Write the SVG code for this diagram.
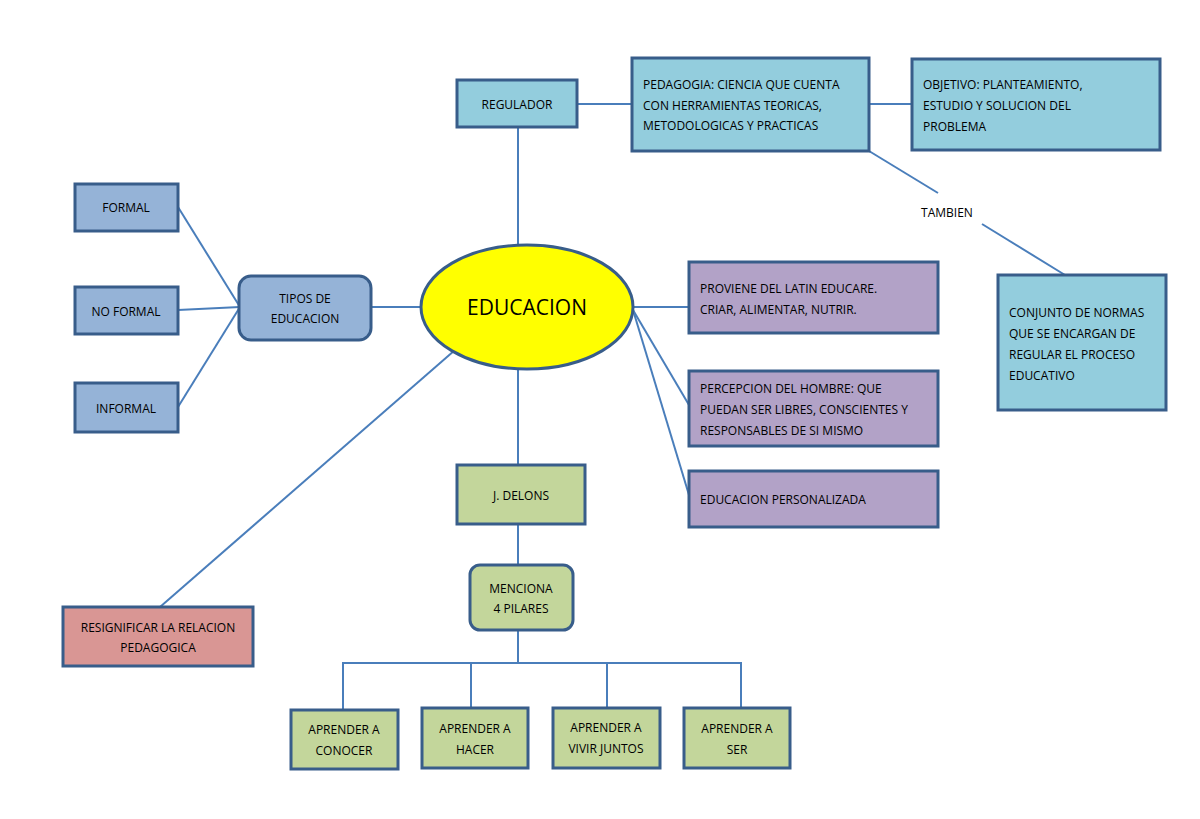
<svg xmlns="http://www.w3.org/2000/svg" width="1200" height="819" viewBox="0 0 1200 819">
<style>
.b{stroke:#385d8a;stroke-width:3}
.cy{fill:#93cddd}.bl{fill:#95b3d7}.pu{fill:#b2a2c7}.gr{fill:#c3d69b}.rd{fill:#d99694}
text{font-family:"Open Sans","Liberation Sans",sans-serif;font-size:12px;fill:#000}
.c{text-anchor:middle}
#conn line,#conn polyline{stroke:#4a7ebb;stroke-width:2;fill:none}
</style>
<rect width="1200" height="819" fill="#fff"/>
<g id="conn">
<line x1="178" y1="207" x2="240" y2="307"/>
<line x1="178" y1="310" x2="240" y2="307"/>
<line x1="178" y1="407" x2="240" y2="307"/>
<line x1="371" y1="307" x2="421" y2="307"/>
<line x1="518" y1="127" x2="518" y2="245"/>
<line x1="577" y1="104" x2="632" y2="104"/>
<line x1="869" y1="104" x2="912" y2="104"/>
<line x1="869" y1="151" x2="938" y2="193"/>
<line x1="982" y1="224" x2="1065" y2="275"/>
<line x1="633" y1="307" x2="689" y2="307"/>
<line x1="633" y1="310" x2="689" y2="405"/>
<line x1="633" y1="310" x2="689" y2="495"/>
<line x1="455" y1="350" x2="160" y2="607"/>
<line x1="518" y1="369" x2="518" y2="465"/>
<line x1="518" y1="524" x2="518" y2="565"/>
<line x1="518" y1="630" x2="518" y2="663"/>
<polyline points="343,710 343,663 741,663 741,708"/>
<line x1="471" y1="663" x2="471" y2="708"/>
<line x1="607" y1="663" x2="607" y2="708"/>
</g>
<g id="formal"><rect class="b bl" x="75" y="184" width="103" height="47"/><text class="c" x="126" y="212">FORMAL</text></g>
<g id="noformal"><rect class="b bl" x="75" y="287" width="103" height="47"/><text class="c" x="126" y="316">NO FORMAL</text></g>
<g id="informal"><rect class="b bl" x="75" y="383" width="103" height="49"/><text class="c" x="126" y="413">INFORMAL</text></g>
<g id="tipos"><rect class="b bl" x="239" y="276" width="132" height="64" rx="12"/><text class="c" x="305" y="303">TIPOS DE</text><text class="c" x="305" y="323">EDUCACION</text></g>
<g id="educacion"><ellipse cx="527" cy="307" rx="106" ry="62" fill="#ffff00" stroke="#385d8a" stroke-width="3"/><text class="c" x="527" y="315" style="font-size:21px">EDUCACION</text></g>
<g id="regulador"><rect class="b cy" x="457" y="80" width="120" height="47"/><text class="c" x="517" y="109">REGULADOR</text></g>
<g id="pedagogia"><rect class="b cy" x="632" y="58" width="237" height="93"/><text x="643" y="89">PEDAGOGIA: CIENCIA QUE CUENTA</text><text x="643" y="110">CON HERRAMIENTAS TEORICAS,</text><text x="643" y="130">METODOLOGICAS Y PRACTICAS</text></g>
<g id="objetivo"><rect class="b cy" x="912" y="59" width="248" height="91"/><text x="923" y="89">OBJETIVO: PLANTEAMIENTO,</text><text x="923" y="110">ESTUDIO Y  SOLUCION DEL</text><text x="923" y="131">PROBLEMA</text></g>
<g id="tambien"><text class="c" x="947" y="217">TAMBIEN</text></g>
<g id="conjunto"><rect class="b cy" x="998" y="275" width="168" height="135"/><text x="1009" y="317">CONJUNTO DE NORMAS</text><text x="1009" y="338">QUE SE ENCARGAN DE</text><text x="1009" y="359">REGULAR EL PROCESO</text><text x="1009" y="380">EDUCATIVO</text></g>
<g id="proviene"><rect class="b pu" x="689" y="262" width="249" height="71"/><text x="700" y="293">PROVIENE DEL LATIN EDUCARE.</text><text x="700" y="314">CRIAR, ALIMENTAR, NUTRIR.</text></g>
<g id="percepcion"><rect class="b pu" x="689" y="371" width="249" height="75"/><text x="700" y="393">PERCEPCION DEL HOMBRE: QUE</text><text x="700" y="414">PUEDAN SER LIBRES, CONSCIENTES Y</text><text x="700" y="435">RESPONSABLES DE SI MISMO</text></g>
<g id="personalizada"><rect class="b pu" x="689" y="471" width="249" height="56"/><text x="700" y="504">EDUCACION  PERSONALIZADA</text></g>
<g id="resignificar"><rect class="b rd" x="63" y="607" width="190" height="59"/><text class="c" x="158" y="632">RESIGNIFICAR LA RELACION</text><text class="c" x="158" y="652">PEDAGOGICA</text></g>
<g id="delons"><rect class="b gr" x="457" y="465" width="128" height="59"/><text class="c" x="521" y="500">J. DELONS</text></g>
<g id="menciona"><rect class="b gr" x="470" y="565" width="103" height="65" rx="10"/><text class="c" x="521" y="593">MENCIONA</text><text class="c" x="521" y="613">4 PILARES</text></g>
<g id="conocer"><rect class="b gr" x="291" y="710" width="107" height="59"/><text class="c" x="344" y="734">APRENDER A</text><text class="c" x="344" y="755">CONOCER</text></g>
<g id="hacer"><rect class="b gr" x="422" y="708" width="106" height="60"/><text class="c" x="475" y="733">APRENDER A</text><text class="c" x="475" y="754">HACER</text></g>
<g id="vivir"><rect class="b gr" x="553" y="708" width="107" height="60"/><text class="c" x="606" y="732">APRENDER A</text><text class="c" x="606" y="753">VIVIR JUNTOS</text></g>
<g id="ser"><rect class="b gr" x="684" y="708" width="106" height="60"/><text class="c" x="737" y="733">APRENDER A</text><text class="c" x="737" y="754">SER</text></g>
</svg>
